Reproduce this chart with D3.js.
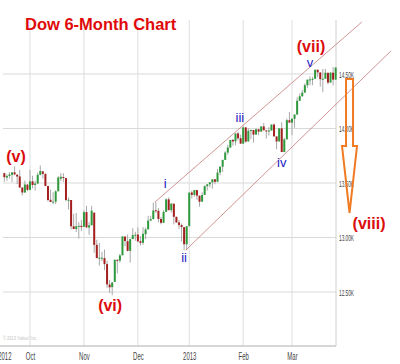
<!DOCTYPE html>
<html>
<head>
<meta charset="utf-8">
<title>Dow 6-Month Chart</title>
<script src="https://cdn.jsdelivr.net/npm/d3@7"></script>
<style>
  body { margin: 0; background: #fff; }
  svg { display: block; }
</style>
</head>
<body>
<svg id="chart" width="400" height="364"></svg>
<script>
// daily candles, [day, open, high, low, close]
const sep2012 = [
  [17, 13590, 13594, 13512, 13553], [18, 13550, 13580, 13520, 13565], [19, 13565, 13601, 13540, 13578],
  [20, 13575, 13600, 13510, 13597], [21, 13598, 13653, 13570, 13579], [24, 13576, 13580, 13490, 13559],
  [25, 13560, 13620, 13456, 13458], [26, 13458, 13460, 13385, 13413], [27, 13413, 13522, 13410, 13486],
  [28, 13485, 13490, 13425, 13437],
];
const oct2012 = [
  [1, 13437, 13620, 13437, 13515], [2, 13515, 13567, 13450, 13482], [3, 13482, 13520, 13430, 13495],
  [4, 13495, 13594, 13489, 13575], [5, 13575, 13661, 13570, 13610], [8, 13606, 13611, 13540, 13584],
  [9, 13582, 13592, 13470, 13473], [10, 13472, 13475, 13330, 13344], [11, 13346, 13440, 13324, 13326],
  [12, 13327, 13415, 13306, 13329], [15, 13329, 13433, 13306, 13424], [16, 13425, 13563, 13420, 13551],
  [17, 13539, 13590, 13520, 13557], [18, 13555, 13589, 13510, 13548], [19, 13545, 13545, 13330, 13344],
  [22, 13344, 13368, 13256, 13346], [23, 13344, 13344, 13073, 13103], [24, 13103, 13217, 13078, 13078],
  [25, 13078, 13225, 13050, 13104], [26, 13104, 13140, 12990, 13107], [31, 13107, 13160, 13060, 13096],
];
const nov2012 = [
  [1, 13099, 13250, 13099, 13233], [2, 13233, 13290, 13087, 13093], [5, 13092, 13140, 13025, 13112],
  [6, 13112, 13290, 13112, 13246], [7, 13228, 13229, 12860, 12933], [8, 12933, 12980, 12811, 12811],
  [9, 12811, 12950, 12743, 12815], [12, 12815, 12870, 12780, 12815], [13, 12811, 12890, 12701, 12756],
  [14, 12756, 12787, 12539, 12570], [15, 12569, 12612, 12490, 12543], [16, 12545, 12590, 12471, 12588],
  [19, 12593, 12798, 12593, 12796], [20, 12795, 12800, 12670, 12788], [21, 12788, 12850, 12770, 12836],
  [23, 12837, 13010, 12837, 13010], [26, 13009, 13009, 12920, 12968], [27, 12966, 13027, 12873, 12878],
  [28, 12878, 12990, 12770, 12985], [29, 12986, 13085, 12985, 13022], [30, 13021, 13052, 12970, 13025],
];
const dec2012 = [
  [3, 13027, 13093, 12958, 12965], [4, 12966, 13013, 12927, 12951], [5, 12952, 13095, 12932, 13034],
  [6, 13030, 13091, 12985, 13074], [7, 13075, 13199, 13075, 13155], [10, 13156, 13200, 13150, 13169],
  [11, 13169, 13320, 13169, 13248], [12, 13250, 13327, 13225, 13245], [13, 13245, 13270, 13140, 13170],
  [14, 13170, 13190, 13121, 13135], [17, 13135, 13250, 13135, 13235], [18, 13235, 13359, 13235, 13350],
  [19, 13350, 13368, 13249, 13251], [20, 13251, 13314, 13228, 13311], [21, 13310, 13310, 13120, 13190],
  [24, 13190, 13190, 13134, 13139], [26, 13139, 13160, 13080, 13114], [27, 13114, 13129, 12964, 13096],
  [28, 13095, 13095, 12883, 12938], [31, 12938, 13104, 12883, 13104],
];
const jan2013 = [
  [2, 13104, 13412, 13104, 13412], [3, 13413, 13430, 13358, 13391], [4, 13391, 13436, 13374, 13435],
  [7, 13435, 13435, 13345, 13384], [8, 13384, 13384, 13282, 13328], [9, 13329, 13416, 13329, 13390],
  [10, 13391, 13478, 13390, 13471], [11, 13471, 13488, 13431, 13488], [14, 13488, 13508, 13460, 13507],
  [15, 13506, 13535, 13448, 13534], [16, 13534, 13536, 13488, 13511], [17, 13511, 13628, 13511, 13596],
  [18, 13596, 13650, 13572, 13650], [22, 13649, 13713, 13601, 13712], [23, 13712, 13792, 13712, 13779],
  [24, 13779, 13850, 13760, 13825], [25, 13825, 13895, 13825, 13895], [28, 13895, 13905, 13841, 13881],
  [29, 13882, 13955, 13845, 13954], [30, 13955, 13969, 13890, 13910], [31, 13911, 13943, 13860, 13861],
];
const feb2013 = [
  [1, 13861, 14020, 13861, 14010], [4, 14010, 14010, 13870, 13880], [5, 13881, 14003, 13881, 13979],
  [6, 13978, 13990, 13903, 13986], [7, 13986, 13988, 13870, 13944], [8, 13944, 14000, 13944, 13993],
  [11, 13993, 13993, 13938, 13971], [12, 13971, 14021, 13971, 14019], [13, 14019, 14050, 13983, 13983],
  [14, 13982, 13988, 13908, 13973], [15, 13973, 14012, 13935, 13981], [19, 13981, 14036, 13981, 14036],
  [20, 14036, 14045, 13923, 13928], [21, 13927, 13929, 13810, 13881], [22, 13881, 14004, 13881, 14001],
  [25, 14001, 14058, 13784, 13784], [26, 13784, 13915, 13783, 13900], [27, 13900, 14091, 13900, 14076],
  [28, 14076, 14149, 14054, 14054],
];
const mar2013 = [
  [1, 14054, 14090, 13938, 14090], [4, 14089, 14128, 14007, 14128], [5, 14128, 14286, 14128, 14254],
  [6, 14254, 14320, 14254, 14296], [7, 14296, 14354, 14291, 14329], [8, 14329, 14414, 14329, 14397],
  [11, 14397, 14448, 14373, 14448], [12, 14448, 14479, 14396, 14450], [13, 14450, 14474, 14396, 14455],
  [14, 14455, 14539, 14455, 14539], [15, 14539, 14539, 14470, 14515], [18, 14514, 14514, 14384, 14453],
  [19, 14452, 14546, 14333, 14456], [20, 14456, 14546, 14456, 14512], [21, 14511, 14511, 14406, 14421],
  [22, 14421, 14516, 14421, 14512], [25, 14512, 14563, 14395, 14448], [26, 14448, 14559, 14448, 14559],
];

const priceTicks = [12500, 13000, 13500, 14000, 14500];
const priceTickLabels = ['12.50K', '13.00K', '13.50K', '14.00K', '14.50K'];
const timeTickLabels = ['2012', 'Oct', 'Nov', 'Dec', '2013', 'Feb', 'Mar'];

// wave counts, [label, trading day index, price]
const majorWaves = [['(v)', 4.55, 13693], ['(vi)', 41.2, 12326], ['(vii)', 119.4, 14705], ['(viii)', 142, 13078]];
const minorWaves = [['i', 62.6, 13454], ['ii', 70, 12775], ['iii', 91.7, 14060], ['iv', 108, 13647], ['v', 119, 14560]];

// trend channel, [trading day index, price]
const upperChannel = [[58.7, 13326], [139.2, 14977]];
const lowerChannel = [[70.7, 12885], [150.5, 14711]];

// projected drop toward wave (viii)
const forecastIndex = 134.4;
const forecastPrices = [14454, 13839, 13225]; // start, arrow head, tip

const months = [
  [2012, 8, sep2012], [2012, 9, oct2012], [2012, 10, nov2012], [2012, 11, dec2012],
  [2013, 0, jan2013], [2013, 1, feb2013], [2013, 2, mar2013],
];

const candles = [];
months.forEach(([year, month, rows]) => {
  rows.forEach(([day, open, high, low, close]) => {
    candles.push({
      index: candles.length, date: new Date(year, month, day), open, high, low, close,
    });
  });
});

// first trading day of every month becomes a grid line
const monthStarts = candles.filter((d, i) => i > 0 && d.date.getMonth() !== candles[i - 1].date.getMonth());
const timeTicks = [0, ...monthStarts.map(d => d.index)];

const plot = { left: 0, right: 336, top: 20, bottom: 346 };
const svg = d3.select('#chart');

// index based axis, weekends and holidays take no room
const x = d3.scaleLinear().domain([-1.68, 129.13]).range([plot.left, plot.right]);
const y = d3.scaleLinear().domain([12005, 14995]).range([plot.bottom, plot.top]);

const grid = svg.append('g').attr('class', 'grid');
grid.selectAll('line.h').data(priceTicks).enter().append('line')
  .attr('class', 'h')
  .attr('x1', 3).attr('x2', plot.right)
  .attr('y1', d => y(d)).attr('y2', d => y(d))
  .attr('stroke', '#d9d9d9');
grid.selectAll('line.v').data(monthStarts).enter().append('line')
  .attr('class', 'v')
  .attr('x1', d => x(d.index)).attr('x2', d => x(d.index))
  .attr('y1', plot.top).attr('y2', plot.bottom)
  .attr('stroke', '#dedede');
grid.append('line')
  .attr('x1', plot.right).attr('x2', plot.right)
  .attr('y1', plot.top).attr('y2', plot.bottom)
  .attr('stroke', '#d0d0d0');
grid.append('line')
  .attr('x1', plot.left).attr('x2', plot.right)
  .attr('y1', plot.bottom).attr('y2', plot.bottom)
  .attr('stroke', '#c8c8c8').attr('stroke-width', 1.5);

svg.append('text')
  .attr('x', 3).attr('y', 340)
  .attr('font-family', 'Liberation Sans, Arial, sans-serif')
  .attr('font-size', 6)
  .attr('fill', '#c4c4c4')
  .attr('textLength', 34).attr('lengthAdjust', 'spacingAndGlyphs')
  .text('© 2013 Yahoo! Inc.');

// candles
const candleGroup = svg.append('g').attr('class', 'candles');
const candle = candleGroup.selectAll('g').data(candles).enter().append('g');
candle.append('line')
  .attr('x1', d => x(d.index)).attr('x2', d => x(d.index))
  .attr('y1', d => y(d.high)).attr('y2', d => y(d.low))
  .attr('stroke', '#a8a8a8').attr('stroke-width', 1);
candle.append('rect')
  .attr('x', d => x(d.index) - 1)
  .attr('width', 2)
  .attr('y', d => y(Math.max(d.open, d.close)))
  .attr('height', d => Math.max(1, Math.abs(y(d.open) - y(d.close))))
  .attr('fill', d => (d.close >= d.open ? '#2e9a3c' : '#a3201f'));

// axes
const yAxis = svg.append('g')
  .attr('transform', `translate(${plot.right + 3},0)`)
  .call(d3.axisRight(y).tickValues(priceTicks)
    .tickFormat((d, i) => priceTickLabels[i]).tickSize(0).tickPadding(0));
yAxis.select('.domain').remove();
yAxis.selectAll('text')
  .attr('font-family', 'Liberation Sans, Arial, sans-serif')
  .attr('font-size', 9.5)
  .attr('fill', '#444')
  .attr('transform', 'scale(0.5,1)');

const xAxis = svg.append('g')
  .attr('transform', `translate(0,${plot.bottom + 4})`)
  .call(d3.axisBottom(x).tickValues(timeTicks)
    .tickFormat((d, i) => timeTickLabels[i]).tickSize(0).tickPadding(3));
xAxis.select('.domain').remove();
xAxis.selectAll('.tick text')
  .attr('font-family', 'Liberation Sans, Arial, sans-serif')
  .attr('font-size', 10)
  .attr('fill', '#444')
  .attr('transform', 'scale(0.6,1)');

// trend channel
const line = d3.line().x(d => x(d[0])).y(d => y(d[1]));
svg.selectAll('path.channel').data([upperChannel, lowerChannel]).enter().append('path')
  .attr('class', 'channel')
  .attr('d', line)
  .attr('fill', 'none')
  .attr('stroke', '#c47a7a')
  .attr('stroke-width', 0.8);

// forecast arrow
const ax = x(forecastIndex);
const [fromY, neckY, tipY] = forecastPrices.map(y);
const shaft = 3.5;
const head = 7.5;
svg.append('path')
  .attr('d', `M${ax - shaft},${fromY}L${ax + shaft},${fromY}L${ax + shaft},${neckY}L${ax + head},${neckY}`
    + `L${ax},${tipY}L${ax - head},${neckY}L${ax - shaft},${neckY}Z`)
  .attr('fill', 'none')
  .attr('stroke', '#f07a22')
  .attr('stroke-width', 2)
  .attr('stroke-linejoin', 'miter');

// wave labels
svg.selectAll('text.major').data(majorWaves).enter().append('text')
  .attr('class', 'major')
  .attr('x', d => x(d[1])).attr('y', d => y(d[2]))
  .attr('text-anchor', 'middle')
  .attr('font-family', 'Liberation Sans, Arial, sans-serif')
  .attr('font-weight', 'bold')
  .attr('font-size', 16)
  .attr('fill', '#dc0c0c')
  .text(d => d[0]);
svg.selectAll('text.minor').data(minorWaves).enter().append('text')
  .attr('class', 'minor')
  .attr('x', d => x(d[1])).attr('y', d => y(d[2]))
  .attr('text-anchor', 'middle')
  .attr('font-family', 'Liberation Sans, Arial, sans-serif')
  .attr('font-size', 13)
  .attr('fill', '#1e22c4')
  .text(d => d[0]);

svg.append('text')
  .attr('x', 25).attr('y', 29.5)
  .attr('font-family', 'Liberation Sans, Arial, sans-serif')
  .attr('font-weight', 'bold')
  .attr('font-size', 16.5)
  .attr('fill', '#e00a0a')
  .text('Dow 6-Month Chart');
</script>
</body>
</html>
